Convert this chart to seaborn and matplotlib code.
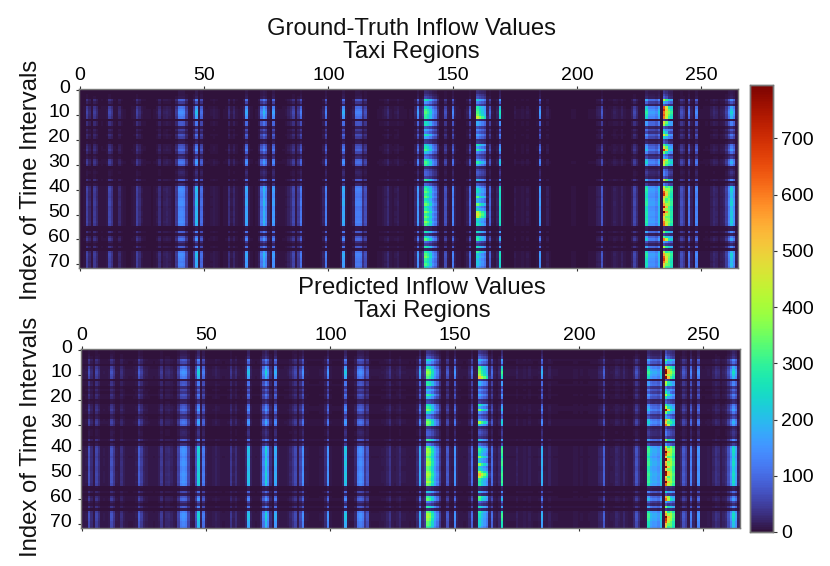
import numpy as np
import matplotlib
matplotlib.use('Agg')
import matplotlib.pyplot as plt
from matplotlib.transforms import ScaledTranslation
import seaborn as sns

plt.rcParams['font.family'] = ['Liberation Sans', 'DejaVu Sans']

W, H = 830, 566
VMAX = 795
X_TICKS = [0, 50, 100, 150, 200, 250]
Y_TICKS = [0, 10, 20, 30, 40, 50, 60, 70]
CBAR_TICKS = [0, 100, 200, 300, 400, 500, 600, 700]

# peak inflow per taxi region (265 regions)
REGION_TRUE = [
    3, 3, 5, 55, 25, 5, 48, 25, 4, 6,
    5, 8, 60, 38, 6, 5, 25, 8, 4, 3,
    3, 5, 8, 52, 30, 10, 6, 4, 4, 3,
    4, 10, 32, 7, 16, 20, 14, 8, 6, 45,
    140, 145, 135, 55, 8, 6, 55, 205, 12, 105,
    10, 4, 5, 7, 12, 8, 4, 3, 4, 5,
    32, 10, 24, 8, 4, 5, 18, 180, 15, 5,
    3, 4, 18, 130, 200, 140, 22, 6, 165, 10,
    4, 4, 5, 7, 18, 30, 60, 8, 48, 120,
    6, 3, 3, 3, 3, 3, 3, 4, 20, 130,
    5, 3, 3, 3, 3, 14, 185, 8, 3, 4,
    16, 125, 130, 120, 38, 70, 4, 3, 3, 3,
    4, 6, 8, 14, 28, 8, 6, 10, 16, 6,
    6, 4, 3, 4, 3, 22, 165, 25, 45, 330,
    290, 230, 150, 115, 38, 6, 8, 70, 10, 6,
    135, 14, 5, 4, 3, 4, 16, 95, 6, 8,
    300, 245, 205, 160, 18, 95, 10, 6, 20, 270,
    4, 3, 3, 3, 3, 10, 4, 4, 8, 4,
    10, 4, 3, 3, 6, 165, 6, 4, 14, 4,
    3, 3, 3, 3, 3, 3, 3, 3, 4, 4,
    3, 3, 3, 3, 3, 4, 4, 4, 14, 18,
    80, 8, 4, 6, 8, 16, 12, 8, 18, 8,
    4, 4, 18, 60, 30, 6, 4, 8, 290, 170,
    165, 165, 140, 215, 6, 640, 460, 370, 300, 4,
    5, 18, 70, 45, 5, 115, 18, 6, 140, 6,
    4, 5, 6, 5, 14, 25, 20, 8, 14, 20,
    55, 135, 230, 155, 14,
]
REGION_PRED = [
    8, 8, 10, 70, 30, 9, 58, 32, 9, 10,
    9, 12, 72, 42, 10, 9, 32, 14, 8, 7,
    7, 9, 13, 85, 50, 20, 14, 9, 8, 7,
    8, 14, 44, 12, 26, 28, 20, 12, 10, 55,
    140, 155, 140, 65, 14, 10, 70, 235, 16, 120,
    16, 8, 8, 11, 18, 12, 8, 7, 8, 9,
    42, 16, 30, 11, 8, 9, 24, 210, 18, 8,
    7, 8, 24, 130, 235, 155, 34, 10, 185, 15,
    8, 8, 9, 11, 22, 40, 65, 12, 60, 145,
    10, 7, 6, 6, 6, 6, 7, 8, 30, 155,
    9, 6, 6, 6, 6, 18, 215, 11, 7, 7,
    24, 130, 145, 125, 45, 80, 8, 7, 7, 7,
    8, 10, 12, 20, 40, 12, 10, 15, 26, 10,
    10, 8, 7, 8, 7, 28, 185, 30, 50, 360,
    330, 250, 160, 115, 45, 10, 12, 78, 14, 10,
    155, 18, 9, 8, 7, 8, 22, 105, 10, 12,
    335, 265, 220, 170, 26, 105, 16, 10, 26, 310,
    8, 7, 7, 7, 7, 16, 8, 8, 12, 8,
    14, 8, 7, 7, 10, 190, 10, 8, 18, 8,
    7, 7, 6, 6, 6, 6, 6, 6, 8, 8,
    6, 7, 6, 6, 7, 8, 8, 8, 20, 24,
    90, 12, 8, 10, 12, 22, 18, 12, 24, 12,
    8, 8, 26, 72, 36, 10, 8, 12, 310, 200,
    180, 185, 160, 240, 9, 700, 470, 400, 320, 7,
    9, 24, 78, 55, 9, 130, 24, 10, 155, 9,
    8, 9, 11, 9, 20, 36, 28, 12, 20, 28,
    70, 150, 250, 175, 22,
]

# share of the peak for each of the 72 time intervals
TIME_TRUE = [
    .04, .05, .06, .08, .6, .3, .1, .75, .9, 1,
    .9, .8, .03, .55, .55, .1, .35, .2, .5, .35,
    .05, .08, .45, .55, .7, .45, .12, .2, .7, .8,
    .6, .05, .1, .15, .12, .08, .6, .04, .15, .9,
    1, .95, .9, .85, .95, 1, 1, .85, .9, .95,
    .95, .9, .95, 1, .9, .06, .05, .6, .08, .55,
    .75, .25, .1, .6, .04, .85, 1, .95, .9, .85,
    .9, .8,
]
TIME_PRED = [
    .07, .08, .1, .14, .55, .4, .15, .72, .9, 1,
    .9, .78, .05, .5, .55, .18, .38, .25, .5, .38,
    .1, .12, .45, .55, .68, .45, .18, .25, .65, .75,
    .6, .08, .12, .15, .14, .1, .55, .06, .18, .9,
    1, 1, .95, .85, .95, 1, 1, .9, .9, .95,
    1, .95, .95, 1, .9, .07, .05, .42, .1, .5,
    .65, .25, .12, .55, .07, .85, 1, 1, .95, .85,
    .85, .8,
]

# the busiest regions, read row by row
HOT_235_TRUE = [
    30, 40, 60, 90, 420, 200, 80, 640, 700, 610,
    640, 600, 40, 480, 400, 70, 200, 280, 480, 240,
    60, 80, 320, 480, 700, 350, 120, 180, 560, 480,
    420, 40, 100, 130, 130, 70, 480, 20, 120, 420,
    520, 640, 690, 520, 430, 470, 560, 730, 520, 790,
    560, 470, 520, 600, 620, 30, 30, 360, 50, 320,
    600, 180, 60, 400, 30, 400, 560, 640, 680, 600,
    500, 420,
]
HOT_235_PRED = [
    50, 60, 80, 120, 330, 220, 90, 500, 760, 780,
    560, 770, 60, 420, 380, 100, 220, 280, 420, 260,
    70, 90, 300, 420, 760, 360, 140, 200, 560, 480,
    620, 50, 90, 120, 120, 60, 400, 30, 140, 420,
    560, 790, 640, 480, 780, 520, 560, 760, 520, 780,
    760, 470, 560, 780, 620, 40, 30, 240, 60, 560,
    620, 180, 60, 360, 40, 420, 560, 780, 700, 640,
    520, 440,
]
HOT_139_TRUE = [
    20, 25, 40, 60, 270, 150, 70, 240, 310, 330,
    300, 290, 30, 250, 270, 70, 180, 120, 270, 170,
    40, 45, 230, 270, 320, 210, 80, 110, 270, 320,
    290, 30, 70, 90, 90, 50, 300, 20, 90, 260,
    300, 340, 290, 340, 260, 300, 350, 260, 290, 370,
    300, 350, 300, 370, 320, 20, 20, 270, 40, 240,
    330, 100, 50, 280, 20, 280, 330, 360, 300, 280,
    320, 250,
]
HOT_139_PRED = [
    30, 35, 50, 80, 250, 180, 80, 270, 350, 380,
    350, 320, 40, 280, 300, 100, 210, 150, 300, 200,
    50, 60, 260, 300, 360, 240, 100, 130, 320, 360,
    330, 35, 70, 85, 85, 50, 310, 30, 110, 320,
    380, 400, 370, 330, 370, 400, 390, 340, 340, 380,
    410, 380, 360, 410, 350, 30, 25, 220, 50, 300,
    340, 120, 55, 290, 30, 340, 400, 410, 380, 340,
    340, 300,
]
HOT_160_TRUE = [
    25, 30, 50, 70, 220, 120, 60, 280, 300, 320,
    350, 450, 30, 180, 180, 60, 130, 90, 170, 120,
    30, 40, 270, 160, 290, 130, 60, 80, 170, 290,
    180, 25, 60, 80, 70, 40, 200, 15, 70, 180,
    240, 250, 200, 330, 190, 180, 350, 170, 230, 420,
    470, 420, 250, 220, 270, 20, 20, 250, 30, 260,
    290, 80, 40, 250, 20, 300, 210, 240, 200, 220,
    210, 170,
]
HOT_160_PRED = [
    35, 40, 60, 90, 200, 140, 70, 320, 340, 360,
    400, 520, 40, 190, 190, 80, 150, 110, 180, 130,
    40, 50, 280, 180, 360, 150, 70, 100, 190, 400,
    220, 30, 60, 75, 65, 40, 220, 25, 90, 210,
    300, 280, 240, 360, 220, 210, 380, 220, 260, 400,
    540, 440, 300, 280, 290, 25, 20, 200, 35, 330,
    310, 90, 45, 260, 30, 290, 260, 260, 240, 240,
    240, 200,
]


def inflow_grid(region, time, hot_235, hot_139, hot_160):
    grid = np.outer(time, region)
    # neighbours of a busy region follow its row pattern
    for key, cols, hot in [(235, [235], hot_235), (139, range(139, 145), hot_139),
                           (160, range(160, 165), hot_160)]:
        for c in cols:
            grid[:, c] = np.array(hot) * region[c] / region[key]
    grid[:, 236] = np.array(hot_235) * region[236] / region[235]
    return grid


def px_rect(x0, y0, x1, y1):
    # pixel box from the top left of the picture to figure fractions
    return [x0 / W, 1 - y1 / H, (x1 - x0) / W, (y1 - y0) / H]


def style_spines(ax):
    for s in ax.spines.values():
        s.set_visible(True)
        s.set_color('#777777')
        s.set_linewidth(1.0)


def draw_panel(fig, box, grid, cbar_ax=None):
    ax = fig.add_axes(px_rect(*box))
    sns.heatmap(grid, ax=ax, cmap='turbo', vmin=0, vmax=VMAX, cbar=cbar_ax is not None,
                cbar_ax=cbar_ax, xticklabels=False, yticklabels=False, rasterized=True)
    ax.set_xticks([t + 0.5 for t in X_TICKS])
    ax.set_xticklabels(X_TICKS, rotation=0)
    ax.set_yticks([t + 0.5 for t in Y_TICKS])
    ax.set_yticklabels(Y_TICKS, rotation=0)
    ax.tick_params(axis='x', top=True, bottom=True, labeltop=True, labelbottom=False,
                   labelsize=14, length=2, width=0.8, color='#333333', pad=1.5)
    ax.tick_params(axis='y', labelsize=14, length=2, width=0.8, color='#333333', pad=4)
    # the row labels sit a little above their ticks in the reference
    shift = ScaledTranslation(0, 3 / 72, fig.dpi_scale_trans)
    for lab in ax.get_yticklabels():
        lab.set_transform(lab.get_transform() + shift)
    style_spines(ax)
    return ax


fig = plt.figure(figsize=(W / 100, H / 100), dpi=100)
cax = fig.add_axes(px_rect(750, 85, 773, 532))

true_grid = inflow_grid(REGION_TRUE, TIME_TRUE, HOT_235_TRUE, HOT_139_TRUE, HOT_160_TRUE)
pred_grid = inflow_grid(REGION_PRED, TIME_PRED, HOT_235_PRED, HOT_139_PRED, HOT_160_PRED)
draw_panel(fig, (78.5, 89, 737.5, 268), true_grid, cbar_ax=cax)
draw_panel(fig, (80.5, 349, 739.5, 528), pred_grid)

cax.set_yticks(CBAR_TICKS)
cax.set_yticklabels(CBAR_TICKS)
cax.tick_params(labelsize=14, length=3, width=0.8, color='#333333', pad=3)
style_spines(cax)


def px_text(x, y, s, **kw):
    fig.text(x / W, 1 - y / H, s, ha='center', va='center', fontsize=17.2, color='#111111', **kw)


px_text(411, 29, 'Ground-Truth Inflow Values')
px_text(411, 52, 'Taxi Regions')
px_text(422, 288, 'Predicted Inflow Values')
px_text(422, 311, 'Taxi Regions')
px_text(31, 180, 'Index of Time Intervals', rotation=90)
px_text(31, 437, 'Index of Time Intervals', rotation=90)

fig.savefig('out.png', dpi=100)
plt.close(fig)
